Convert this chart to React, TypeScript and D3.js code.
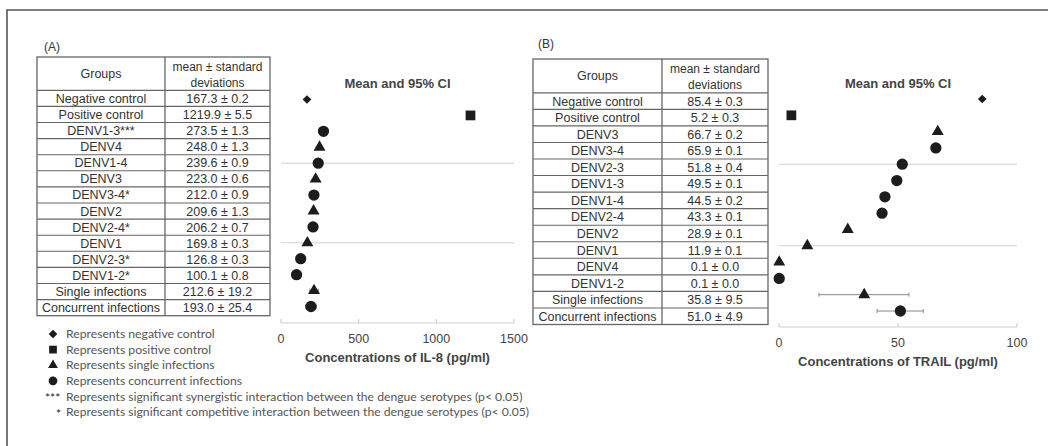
import React from 'react';
import * as d3 from 'd3';

// ---- data: panel A (IL-8) ----
const groupsA = ['Negative control', 'Positive control', 'DENV1-3***', 'DENV4', 'DENV1-4', 'DENV3', 'DENV3-4*', 'DENV2', 'DENV2-4*', 'DENV1', 'DENV2-3*', 'DENV1-2*', 'Single infections', 'Concurrent infections'];
const meansA = [167.3, 1219.9, 273.5, 248.0, 239.6, 223.0, 212.0, 209.6, 206.2, 169.8, 126.8, 100.1, 212.6, 193.0];
const sdA = [0.2, 5.5, 1.3, 1.3, 0.9, 0.6, 0.9, 1.3, 0.7, 0.3, 0.3, 0.8, 19.2, 25.4];
const markersA = ['diamond', 'square', 'circle', 'triangle', 'circle', 'triangle', 'circle', 'triangle', 'circle', 'triangle', 'circle', 'circle', 'triangle', 'circle'];
// 95% CI bars (only the pooled rows show one)
const ciA = [null, null, null, null, null, null, null, null, null, null, null, null, [186, 240], [158, 228]];
const ticksA = [0, 500, 1000, 1500];

// ---- data: panel B (TRAIL) ----
const groupsB = ['Negative control', 'Positive control', 'DENV3', 'DENV3-4', 'DENV2-3', 'DENV1-3', 'DENV1-4', 'DENV2-4', 'DENV2', 'DENV1', 'DENV4', 'DENV1-2', 'Single infections', 'Concurrent infections'];
const meansB = [85.4, 5.2, 66.7, 65.9, 51.8, 49.5, 44.5, 43.3, 28.9, 11.9, 0.1, 0.1, 35.8, 51.0];
const sdB = [0.3, 0.3, 0.2, 0.1, 0.4, 0.1, 0.2, 0.1, 0.1, 0.1, 0.0, 0.0, 9.5, 4.9];
const markersB = ['diamond', 'square', 'triangle', 'circle', 'circle', 'circle', 'circle', 'circle', 'triangle', 'triangle', 'triangle', 'circle', 'triangle', 'circle'];
const ciB = [null, null, null, null, null, null, null, null, null, null, null, null, [16.8, 54.6], [41.2, 60.6]];
const ticksB = [0, 50, 100];

// rows that carry a faint horizontal reference line
const refRows = [4, 9];

const legendItems = [
  { mark: 'diamond', text: 'Represents negative control' },
  { mark: 'square', text: 'Represents positive control' },
  { mark: 'triangle', text: 'Represents single infections' },
  { mark: 'circle', text: 'Represents concurrent infections' },
  { mark: '***', text: 'Represents significant synergistic interaction between the dengue serotypes (p< 0.05)' },
  { mark: '*', text: 'Represents significant competitive interaction between the dengue serotypes (p< 0.05)' },
];

const INK = '#1c1c1c';
const TXT = '#333';
const GRID = '#cfcfcf';
const TABLE_LINE = '#666';
const FONT = 'Arial, "Liberation Sans", sans-serif';

const symbolType = (m: string) =>
  m === 'circle' ? d3.symbolCircle : m === 'triangle' ? d3.symbolTriangle : m === 'square' ? d3.symbolSquare : d3.symbolDiamond2;

const markSize: Record<string, number> = { circle: 100, triangle: 62, square: 95, diamond: 48 };
const legendSize: Record<string, number> = { circle: 60, triangle: 42, square: 60, diamond: 48 };

function Table({ groups, means, sd, x0, x1, x2, top, headBottom, bottom }) {
  const rowY = d3.scaleBand<string>().domain(groups).range([headBottom, bottom]);
  const c1 = (x0 + x1) / 2;
  const c2 = (x1 + x2) / 2;
  return (
    <g fontFamily={FONT} fill={TXT} fontSize={12.5}>
      <rect x={x0} y={top} width={x2 - x0} height={bottom - top} fill="none" stroke={TABLE_LINE} strokeWidth={1.3} />
      <line x1={x1} x2={x1} y1={top} y2={bottom} stroke={TABLE_LINE} strokeWidth={1.3} />
      <line x1={x0} x2={x2} y1={headBottom} y2={headBottom} stroke={TABLE_LINE} strokeWidth={1.3} />
      <text x={c1} y={(top + headBottom) / 2} dy="0.35em" textAnchor="middle">Groups</text>
      <text x={c2} y={(top + headBottom) / 2 - 7} dy="0.35em" textAnchor="middle" fontSize={12}>mean ± standard</text>
      <text x={c2} y={(top + headBottom) / 2 + 9} dy="0.35em" textAnchor="middle" fontSize={12}>deviations</text>
      {groups.map((g, i) => (
        <g key={g}>
          {i > 0 && (
            <line x1={x0} x2={x2} y1={rowY(g)} y2={rowY(g)} stroke={TABLE_LINE} strokeWidth={1.1} />
          )}
          <text x={c1} y={rowY(g)! + rowY.bandwidth() / 2} dy="0.36em" textAnchor="middle">{g}</text>
          <text x={c2} y={rowY(g)! + rowY.bandwidth() / 2} dy="0.36em" textAnchor="middle">
            {means[i].toFixed(1)} ± {sd[i].toFixed(1)}
          </text>
        </g>
      ))}
    </g>
  );
}

function Dots({ groups, means, markers, ci, xScale, yTop, yBottom, ticks, title, axisLabel, axisY }) {
  const y = d3.scalePoint<string>().domain(groups).range([yTop, yBottom]);
  const [r0, r1] = xScale.range();
  const cx = (r0 + r1) / 2;
  return (
    <g fontFamily={FONT}>
      <text x={cx} y={83} dy="0.35em" textAnchor="middle" fontWeight="bold" fontSize={13} fill="#444">{title}</text>
      {refRows.map((i) => (
        <line key={i} x1={r0} x2={r1} y1={y(groups[i])} y2={y(groups[i])} stroke={GRID} strokeWidth={1} />
      ))}
      {groups.map((g, i) =>
        ci[i] ? (
          <g key={'ci' + g} stroke="#888" strokeWidth={1}>
            <line x1={xScale(ci[i][0])} x2={xScale(ci[i][1])} y1={y(g)} y2={y(g)} />
            <line x1={xScale(ci[i][0])} x2={xScale(ci[i][0])} y1={y(g)! - 2} y2={y(g)! + 2} />
            <line x1={xScale(ci[i][1])} x2={xScale(ci[i][1])} y1={y(g)! - 2} y2={y(g)! + 2} />
          </g>
        ) : null
      )}
      {groups.map((g, i) => (
        <path key={g} d={d3.symbol(symbolType(markers[i]), markSize[markers[i]])()!}
          transform={`translate(${xScale(means[i])},${y(g)})`} fill={INK} />
      ))}
      <line x1={r0} x2={r1} y1={axisY} y2={axisY} stroke={GRID} strokeWidth={1.2} />
      {ticks.map((t) => (
        <g key={t}>
          <line x1={xScale(t)} x2={xScale(t)} y1={axisY} y2={axisY - 4} stroke={GRID} strokeWidth={1.2} />
          <text x={xScale(t)} y={axisY + 16} dy="0.35em" textAnchor="middle" fontSize={12.5} fill="#444">{t}</text>
        </g>
      ))}
      <text x={cx} y={axisY + 34} dy="0.35em" textAnchor="middle" fontWeight="bold" fontSize={13} fill="#444">{axisLabel}</text>
    </g>
  );
}

export default function App() {
  const xA = d3.scaleLinear().domain([0, 1500]).range([281, 514]);
  const xB = d3.scaleLinear().domain([0, 100]).range([779, 1017]);
  const legendY = d3.scalePoint<number>().domain(legendItems.map((_, i) => i)).range([334, 412]);

  return (
    <svg width={1048} height={446} style={{ position: 'absolute', left: 0, top: 0, background: '#fff' }}>
      {/* outer frame (only top and left are within the crop) */}
      <path d="M7,446 V10 H1048" fill="none" stroke="#555" strokeWidth={1.6} />

      <text x={52} y={47} dy="0.35em" textAnchor="middle" fontFamily={FONT} fontSize={12} fill={TXT}>(A)</text>
      <Table groups={groupsA} means={meansA} sd={sdA} x0={37} x1={165} x2={270} top={57} headBottom={90.3} bottom={315.7} />
      <Dots groups={groupsA} means={meansA} markers={markersA} ci={ciA} xScale={xA} yTop={99.5} yBottom={306.5}
        ticks={ticksA} title="Mean and 95% CI" axisLabel="Concentrations of IL-8 (pg/ml)" axisY={323} />

      <text x={546} y={44} dy="0.35em" textAnchor="middle" fontFamily={FONT} fontSize={12} fill={TXT}>(B)</text>
      <Table groups={groupsB} means={meansB} sd={sdB} x0={533} x1={662} x2={768} top={59} headBottom={92.8} bottom={324.5} />
      <Dots groups={groupsB} means={meansB} markers={markersB} ci={ciB} xScale={xB} yTop={99} yBottom={311}
        ticks={ticksB} title="Mean and 95% CI" axisLabel="Concentrations of TRAIL (pg/ml)" axisY={327} />

      {/* legend */}
      <g fontFamily='Lato, "Open Sans", sans-serif' fontSize={12.2} fill="#555">
        {legendItems.map((d, i) => {
          const ly = legendY(i)!;
          const isStar = d.mark.startsWith('*');
          return (
            <g key={i}>
              {isStar ? (
                <text x={d.mark === '***' ? 45 : 56} y={ly} dy="0.5em" fill={INK} fontSize={12}>{d.mark}</text>
              ) : (
                <path d={d3.symbol(symbolType(d.mark), legendSize[d.mark])()!}
                  transform={`translate(${53},${ly})`} fill={INK} />
              )}
              <text x={66} y={ly} dy="0.35em">{d.text}</text>
            </g>
          );
        })}
      </g>
    </svg>
  );
}
